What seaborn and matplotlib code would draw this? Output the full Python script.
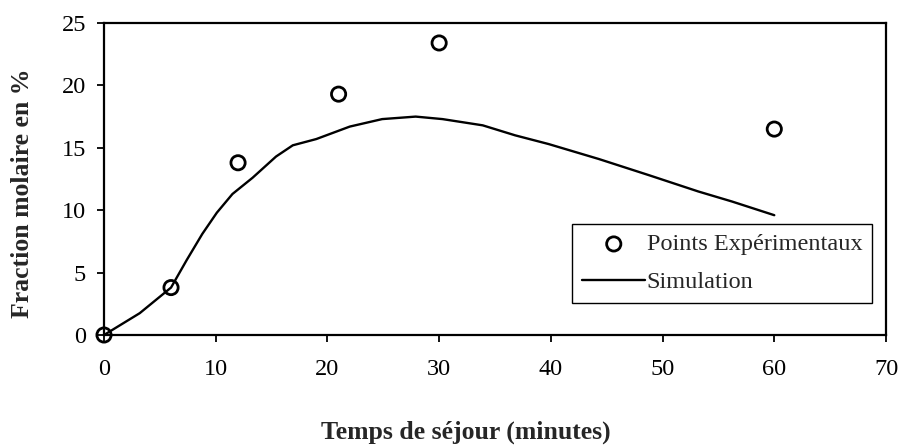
import matplotlib
matplotlib.use("Agg")
import matplotlib.pyplot as plt
import seaborn as sns
import pandas as pd

# Experimental points
temps_exp = [0, 6, 12, 21, 30, 60]
fraction_exp = [0, 3.8, 13.8, 19.3, 23.4, 16.5]

# Simulation curve
temps_sim = [0, 3.2, 6, 7.4, 8.8, 10.1, 11.5, 13.3, 15.4, 16.9, 19.0, 22.0, 24.9, 27.9,
             30.3, 33.9, 36.8, 39.8, 44.3, 48.8, 53.2, 56.2, 60]
fraction_sim = [0, 1.75, 3.8, 6.0, 8.1, 9.8, 11.3, 12.6, 14.3, 15.2, 15.7, 16.7, 17.3, 17.5,
                17.3, 16.8, 16.0, 15.3, 14.1, 12.8, 11.5, 10.7, 9.6]

exp = pd.DataFrame({'temps': temps_exp, 'fraction': fraction_exp})
sim = pd.DataFrame({'temps': temps_sim, 'fraction': fraction_sim})

sns.set_style("ticks")
plt.rcParams['font.family'] = ['Liberation Serif', 'DejaVu Serif']

fig = plt.figure(figsize=(9.01, 4.45), dpi=100)
ax = fig.add_axes([104 / 901, 1 - 335 / 445, 782 / 901, 312 / 445])

sns.scatterplot(data=exp, x='temps', y='fraction', ax=ax, marker='o', s=105,
                facecolor='none', edgecolor='black', linewidth=2.0,
                label='Points Expérimentaux', zorder=3, clip_on=False)
sns.lineplot(data=sim, x='temps', y='fraction', ax=ax, color='black', linewidth=1.7,
             label='Simulation')

ax.set_xlim(0, 70)
ax.set_ylim(0, 25)
ax.set_xticks(range(0, 71, 10))
ax.set_yticks(range(0, 26, 5))
for side in ['top', 'right', 'bottom', 'left']:
    ax.spines[side].set_linewidth(1.6)
    ax.spines[side].set_color('black')
ax.tick_params(axis='both', labelsize=17.5, colors='black', width=1.3, length=5)
ax.tick_params(axis='x', pad=12)
ax.tick_params(axis='y', pad=8)

ax.set_xlabel('Temps de séjour (minutes)', fontsize=18.5, fontweight='bold')
ax.set_ylabel('Fraction molaire en %', fontsize=18.5, fontweight='bold')
ax.xaxis.set_label_coords((466 - 104) / 782, -(421 - 335) / 312)
ax.yaxis.set_label_coords(-(104 - 34) / 782, (335 - 193) / 312)

leg = ax.legend(loc='lower right', bbox_to_anchor=(0.982, 0.103), fontsize=17.5,
                frameon=True, fancybox=False, framealpha=1, edgecolor='black',
                borderpad=0.4, handlelength=2.6, handletextpad=0.05, labelspacing=0.65,
                borderaxespad=0)
leg.get_frame().set_linewidth(1.0)

plt.savefig('out.png', dpi=100, facecolor='white')
